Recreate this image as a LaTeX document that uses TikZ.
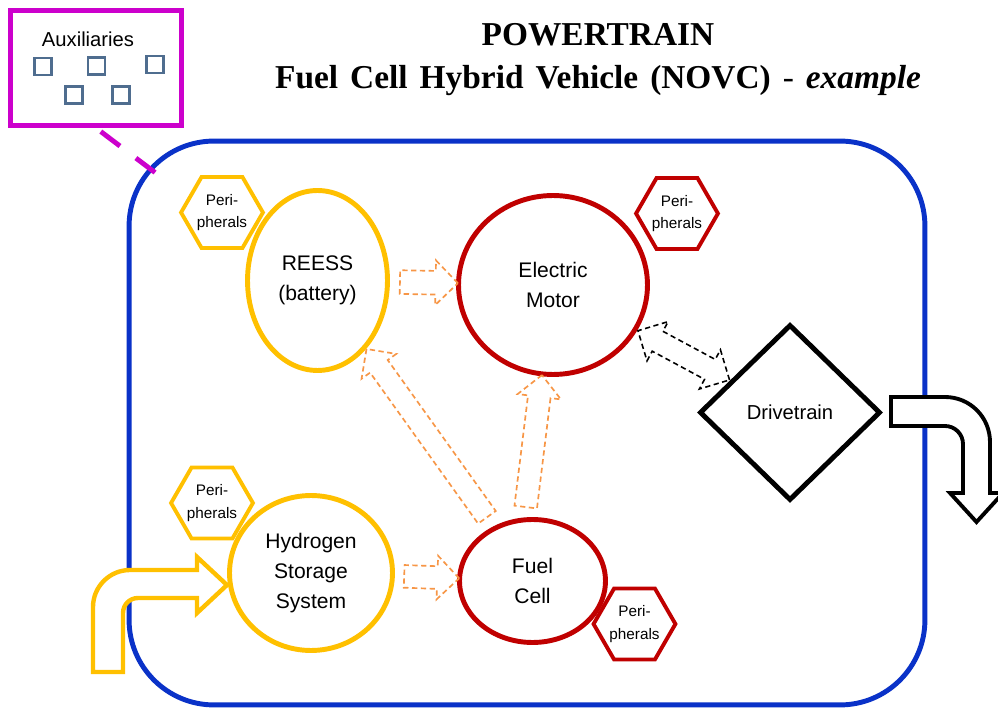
\documentclass[tikz,border=0pt]{standalone}
\usepackage{fontspec}
\setmainfont{Liberation Serif}
\setsansfont{Liberation Sans}
\usepackage{xcolor}
\usetikzlibrary{shapes.geometric, shapes.arrows, calc}

\definecolor{storeyellow}{HTML}{FFC000}
\definecolor{convred}{HTML}{C00000}
\definecolor{frameblue}{HTML}{0A32C8}
\definecolor{auxmagenta}{HTML}{CC00CC}
\definecolor{floworange}{HTML}{F79646}
\definecolor{loadslate}{HTML}{4F6D8F}

\tikzstyle{unit} = [ellipse, draw, line width=2.8pt, fill=white, inner sep=0pt, align=center, font=\sffamily\fontsize{12}{17}\selectfont]
\tikzstyle{periph} = [regular polygon, regular polygon sides=6, draw, line width=2.2pt, fill=white, minimum size=1.62cm, inner sep=0pt, align=center, font=\sffamily\fontsize{8.7}{13}\selectfont]
\tikzstyle{hollow} = [single arrow, draw=floworange, line width=0.95pt, dash pattern=on 3pt off 2pt, inner xsep=0pt, single arrow head indent=0pt, midway, sloped, allow upside down]
\tikzstyle{twoway} = [double arrow, draw=black, line width=0.9pt, dash pattern=on 3pt off 2pt, inner xsep=0pt, double arrow head indent=0pt, midway, sloped, allow upside down]
\tikzstyle{auxbox} = [draw=loadslate, line width=1.2pt, minimum size=0.34cm, inner sep=0pt]

\begin{document}
\begin{tikzpicture}[x=0.02cm, y=-0.02cm, every node/.style={font=\sffamily}]
\path[use as bounding box, fill=white] (0,0) rectangle (998,709);

% Title
\node (title) [anchor=base, font=\fontsize{19}{24}\selectfont\bfseries] at (598,46) {POWERTRAIN};
\node (subtitle) [anchor=base, font={\fontsize{19}{24}\selectfont\bfseries\spaceskip=0.36em plus 0.1em\relax}] at (598,89) {Fuel Cell Hybrid Vehicle (NOVC) \textmd{-} \textit{example}};

% Frame and auxiliaries
\node (powertrain) [draw=frameblue, line width=2.8pt, rounded corners=1.7cm, minimum width=15.92cm, minimum height=11.28cm] at (527,423) {};
\node (aux) [draw=auxmagenta, line width=2.8pt, minimum width=3.42cm, minimum height=2.3cm] at (96,68) {};
\node (auxlabel) [font=\sffamily\fontsize{11.5}{13}\selectfont] at (88,39) {Auxiliaries};
\foreach \i/\x/\y in {1/43/66.5, 2/96.5/66, 3/155/64.5, 4/74/95, 5/121/95}
  \node (load\i) [auxbox] at (\x,\y) {};
\coordinate (ptcorner) at (157,174);
\draw [auxmagenta, line width=2.8pt, dash pattern=on 0.48cm off 0.4cm, shorten <=0.12cm] (aux.south) -- (ptcorner);

% Hydrogen in, wheels out
\draw [storeyellow, line width=2.5pt, fill=white] (93,672) -- (93,607) .. controls (93,586.6) and (109.6,570) .. (130,570) -- (197,570) -- (197,557) -- (227,585) -- (197,613) -- (197,598) -- (138,598) .. controls (129.7,598) and (123,604.7) .. (123,613) -- (123,672) -- cycle;
\draw [black, line width=2.2pt, fill=white] (891,397) -- (945,397) .. controls (969.9,397) and (990,417.1) .. (990,442) -- (990,493) -- (1003,493) -- (976.5,522) -- (950,493) -- (963,493) -- (963,444) .. controls (963,434.1) and (954.9,426) .. (945,426) -- (891,426) -- cycle;

% Components
\node (reess) [unit, draw=storeyellow, minimum width=2.8cm, minimum height=3.6cm] at (317.5,280.5) {REESS\\(battery)};
\node (motor) [unit, draw=convred, minimum width=3.78cm, minimum height=3.58cm] at (553,285) {Electric\\Motor};
\node (tank) [unit, draw=storeyellow, minimum width=3.26cm, minimum height=3.1cm] at (311,573) {Hydrogen\\Storage\\System};
\node (cell) [unit, draw=convred, minimum width=2.92cm, minimum height=2.46cm] at (532.5,581) {Fuel\\Cell};
\node (drive) [diamond, draw, line width=2.8pt, fill=white, inner sep=0pt, minimum width=3.62cm, minimum height=3.52cm, font=\sffamily\fontsize{11.5}{13}\selectfont] at (790,412.5) {Drivetrain};

\node (reessper) [periph, draw=storeyellow] at (222,212.5) {Peri-\\pherals};
\node (motorper) [periph, draw=convred] at (677,213.5) {Peri-\\pherals};
\node (tankper) [periph, draw=storeyellow] at (212,503) {Peri-\\pherals};
\node (cellper) [periph, draw=convred] at (634.5,624) {Peri-\\pherals};

% Energy flows
\path (reess) -- (motor) node (flowrm) [hollow, inner ysep=0.22cm, single arrow head extend=0.21cm, minimum height=1.16cm] {};
\path (tank) -- (cell) node (flowtc) [hollow, inner ysep=0.21cm, single arrow head extend=0.21cm, minimum height=1.1cm] {};
\path (cell) -- (reess) node (flowcr) [hollow, inner ysep=0.2cm, single arrow head extend=0.21cm, minimum height=4.14cm] {};
\path ([xshift=-0.16cm]cell.north) -- (motor) node (flowcm) [hollow, inner ysep=0.21cm, single arrow head extend=0.21cm, minimum height=2.66cm] {};
\path (motor) -- (drive) node (flowmd) [twoway, inner ysep=0.21cm, double arrow head extend=0.22cm, minimum height=2.08cm] {};
\end{tikzpicture}
\end{document}
